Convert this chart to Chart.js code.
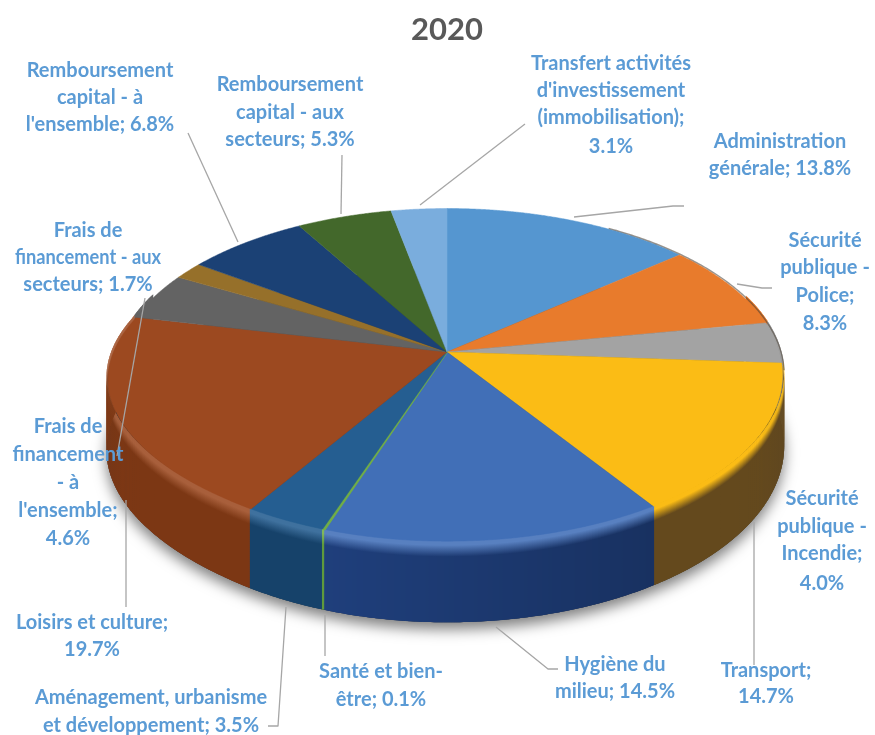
<!DOCTYPE html>
<html><head><meta charset="utf-8">
<script src="https://cdn.jsdelivr.net/npm/chart.js@4"></script>
<style>html,body{margin:0;padding:0;background:#fff}#w{width:875px;height:735px;position:relative}</style>
</head><body><div id="w"><canvas id="c"></canvas></div>
<script>
const categories = ["Administration générale","Sécurité publique - Police","Sécurité publique - Incendie","Transport","Hygiène du milieu","Santé et bien-être","Aménagement, urbanisme et développement","Loisirs et culture","Frais de financement - à l'ensemble","Frais de financement - aux secteurs","Remboursement capital - à l'ensemble","Remboursement capital - aux secteurs","Transfert activités d'investissement (immobilisation)"];
const values = [13.8,8.3,4.0,14.7,14.5,0.1,3.5,19.7,4.6,1.7,6.8,5.3,3.1];
const colors = ["#5596d0","#e87b2c","#a3a3a3","#fbbc15","#416fb7","#70ad47","#255e91","#9c4920","#636363","#96702a","#1b4175","#43682b","#7aaddd"];
const sideColors = ["#33597d","#8a4a1a","#5e5e5e","#64491d","#1f3f7c","#5f9a3c","#16426a","#7c3714","#3c3c3c","#5a4319","#102746","#283e1a","#496883"];
const labelLines = [
 ["Administration","générale; 13.8%"],
 ["Sécurité","publique -","Police;","8.3%"],
 ["Sécurité","publique -","Incendie;","4.0%"],
 ["Transport;","14.7%"],
 ["Hygiène du","milieu; 14.5%"],
 ["Santé et bien-","être; 0.1%"],
 ["Aménagement, urbanisme","et développement; 3.5%"],
 ["Loisirs et culture;","19.7%"],
 ["Frais de","financement","- à","l'ensemble;","4.6%"],
 ["Frais de","financement - aux","secteurs; 1.7%"],
 ["Remboursement","capital - à","l'ensemble; 6.8%"],
 ["Remboursement","capital - aux","secteurs; 5.3%"],
 ["Transfert activités","d'investissement","(immobilisation);","3.1%"]
];
// layout only
const labelCx = [780,825,822,766,615,381,151,92,68,88,100,290,611];
const labelYs = [[142,169],[241,268,296,324],[499,527,554,584],[671,697],[665,692],[672,700],[698,726],[623,650],[427,455,483,511,539],[231,258,285],[71,98,125],[85,113,140],[64,91,118,147]];
const leaders = [
 [[574,217],[673,206],[684,206]],
 [[737,284],[762,288],[772,288]],
 [[754,522],[754,665]],
 [[496,627],[548,669],[558,669]],
 [[325,615],[325,656]],
 [[286,607],[278,726],[268,726]],
 [[126,500],[126,607]],
 [[145,298],[117,456]],
 [[188,133],[238,242]],
 [[342,155],[341,214]],
 [[525,124],[420,205]]
];
const PX=447,PY=352,RXL=330,RXR=334,K=164,P=0.138,D=69;
const proj=(t,r=1)=>{const u=r*Math.cos(t),v=r*Math.sin(t),w=1-P*v;
 const bump=Math.max(0,1-((v/r-0.3)/0.5)**2);
 return [PX+(u<0?RXL+8*bump:RXR)*u/w,PY+K*v/w];};
const depth=t=>D/(1-P*Math.sin(t));
const rgb=h=>{const n=parseInt(h.slice(1),16);return [n>>16,(n>>8)&255,n&255];};
const shade=(h,f)=>{const c=rgb(h).map(x=>f<=1?x*f:x+(255-x)*(f-1));return `rgb(${c.map(Math.round).join(',')})`;};
const pie3d={id:'pie3d',
 beforeDatasetDraw(chart){
  const ctx=chart.ctx,arcs=chart.getDatasetMeta(0).data;
  const step=Math.PI/720;
  // ground shadow
  ctx.save();ctx.shadowColor='rgba(0,0,0,.5)';ctx.shadowBlur=14;ctx.shadowOffsetY=7;ctx.fillStyle='#333';ctx.beginPath();
  for(let t=0;t<Math.PI*2;t+=step*2){const p=proj(t);ctx.lineTo(p[0],p[1]+depth(t));}
  ctx.closePath();ctx.fill();ctx.restore();
  // walls
  arcs.forEach((a,i)=>{
   const bright=(i===4||i===7||i===6||i===5)?1.12:1;
   for(let t=a.startAngle;t<a.endAngle;t+=step){
    const t2=Math.min(t+step*2,a.endAngle+0.002);
    if(Math.sin(t)<-0.35)continue;
    const p1=proj(t),p2=proj(t2),d=depth(t);
    const cu=Math.cos(t);
    const f=(i!==4||cu<-0.33)?1:Math.max(0.76,1-0.25*(cu+0.33));
    const g=ctx.createLinearGradient(0,p1[1]-2,0,p1[1]+d);
    g.addColorStop(0,shade(colors[i],bright));
    g.addColorStop(0.06,shade(colors[i],bright));
    g.addColorStop(0.2,shade(sideColors[i],f));
    g.addColorStop(1,shade(sideColors[i],f));
    ctx.fillStyle=g;ctx.beginPath();ctx.moveTo(p1[0],p1[1]-2);ctx.lineTo(p2[0],p2[1]-2);
    ctx.lineTo(p2[0],p2[1]+depth(t2));ctx.lineTo(p1[0],p1[1]+d);ctx.closePath();ctx.fill();
   }
  });
  // faces
  arcs.forEach((a,i)=>{
   ctx.fillStyle=colors[i];ctx.strokeStyle=colors[i];ctx.lineWidth=values[i]<1?1.6:0.5;ctx.lineJoin='round';
   ctx.beginPath();ctx.moveTo(PX,PY);
   for(let t=a.startAngle;t<a.endAngle;t+=step){const p=proj(t,0.995);ctx.lineTo(p[0],p[1]);}
   const e=proj(a.endAngle,0.995);ctx.lineTo(e[0],e[1]);ctx.closePath();ctx.fill();ctx.stroke();
  });
  // dark back-right rim
  ctx.save();ctx.strokeStyle='rgba(70,60,50,.55)';ctx.lineWidth=1.4;ctx.beginPath();
  for(let t=-1.0;t<0.12;t+=0.01){const p=proj(t);ctx.lineTo(p[0],p[1]);}
  ctx.stroke();ctx.restore();
  // leaders
  ctx.save();ctx.strokeStyle='#a6a6a6';ctx.lineWidth=1.3;
  leaders.forEach(l=>{ctx.beginPath();l.forEach(p=>ctx.lineTo(p[0],p[1]));ctx.stroke();});
  ctx.restore();
  // labels
  ctx.save();ctx.font='bold 20px Lato';ctx.fillStyle='#5b9bd5';ctx.textAlign='center';ctx.textBaseline='middle';
  labelLines.forEach((ls,i)=>ls.forEach((s,j)=>{
   if(i===9&&j===1)ctx.fillText(s,labelCx[i],labelYs[i][j],146);
   else ctx.fillText(s,labelCx[i],labelYs[i][j]);
  }));
  ctx.restore();
  return false;
 }};
new Chart(document.getElementById('c'),{
 type:'pie',
 data:{labels:categories,datasets:[{data:values,backgroundColor:colors,borderWidth:0}]},
 options:{responsive:true,maintainAspectRatio:false,animation:false,
  layout:{padding:{left:19}},
  plugins:{legend:{display:false},tooltip:{enabled:false},
   title:{display:true,text:'2020',fullSize:false,color:'#595959',font:{family:'Lato',size:31,weight:'bold'},padding:{top:11,bottom:4}}}},
 plugins:[pie3d]
});
</script></body></html>
